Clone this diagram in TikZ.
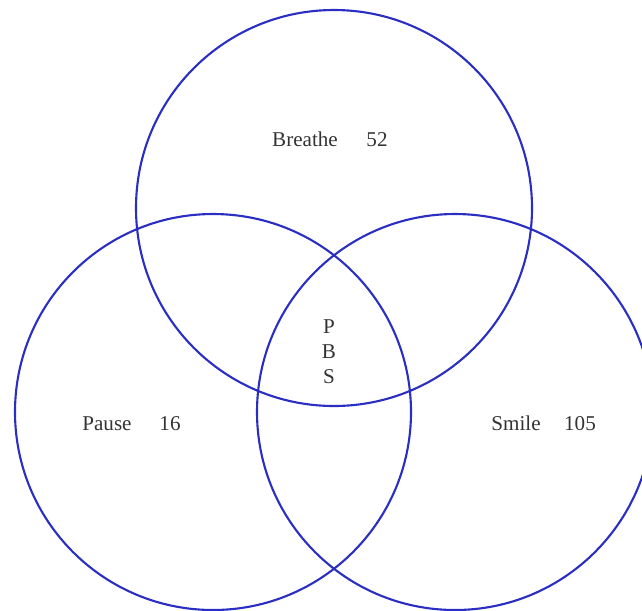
\documentclass[tikz,border=0pt]{standalone}
\usepackage{fontspec}
\setmainfont{Liberation Serif}
\usepackage{xcolor}
\definecolor{vennblue}{HTML}{2A2EC2}
\definecolor{inkgray}{HTML}{333333}
\usetikzlibrary{positioning}

\begin{document}
\begin{tikzpicture}[x=0.02cm, y=-0.02cm,
    set/.style={draw=vennblue, line width=1.2pt},
    lbl/.style={anchor=base, text=inkgray, font=\fontsize{12}{14.2}\selectfont}]
  % Frame of the picture (the right circle runs off the edge)
  \useasboundingbox (0,0) rectangle (642,610);
  \clip (0,0) rectangle (642,610);

  % The three sets
  \draw[set] (334,208) circle[radius=198];
  \draw[set] (213,412) circle[radius=198];
  \draw[set] (455,412) circle[radius=198];

  % Labels of the sets
  \node[lbl] (breathe) at (305,146) {Breathe};
  \node[lbl] (breatheN) at (377,146) {52};
  \node[lbl] (pause) at (107,430) {Pause};
  \node[lbl] (pauseN) at (170,430) {16};
  \node[lbl] (smile) at (516,430) {Smile};
  \node[lbl] (smileN) at (580,430) {105};

  % Centre of all three
  \node[lbl, anchor=center, align=center] (pbs) at (329,352) {P\\B\\S};
\end{tikzpicture}
\end{document}
